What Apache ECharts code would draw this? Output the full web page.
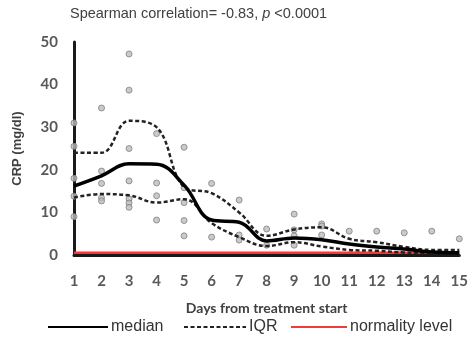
<!DOCTYPE html>
<html>
<head>
<meta charset="utf-8">
<script src="https://cdn.jsdelivr.net/npm/echarts@6/dist/echarts.min.js"></script>
<style>
  html, body { margin: 0; padding: 0; background: #fff; }
  #chart { width: 471px; height: 343px; }
</style>
</head>
<body>
<div id="chart"></div>
<script>
// Days after the start of treatment
const days = [1, 2, 3, 4, 5, 6, 7, 8, 9, 10, 11, 12, 13, 14, 15];

// Smoothed summary curves of CRP (mg/dl)
const median   = [16.2, 18.6, 21.4, 21.3, 16.4, 8.2, 7.7, 3.3, 4.0, 3.6, 2.6, 1.9, 1.4, 0.7, 0.5];
const iqrUpper = [24.0, 24.0, 31.5, 30.0, 16.0, 14.5, 10.0, 4.5, 6.0, 6.5, 3.8, 3.0, 1.9, 1.2, 1.2];
const iqrLower = [13.5, 14.3, 14.0, 12.3, 13.1, 7.5, 4.2, 2.1, 3.0, 2.0, 1.2, 1.0, 0.6, 0.5, 0.5];

// Individual patient CRP measurements per day
const observations = [
  [31, 25.5, 18, 13.8, 9],
  [34.5, 19.7, 16.8, 13.4, 12.7],
  [47.2, 38.7, 25, 17.4, 13.2, 12.2, 11.2],
  [28.5, 16.9, 13.9, 8.2],
  [25.3, 15.8, 12.3, 8.1, 4.5],
  [16.8, 4.2],
  [12.9, 4.7, 3.5],
  [6.1, 2.3],
  [9.6, 5.9, 4.5, 2.3],
  [7.3, 6.8, 4.7],
  [5.6],
  [5.6],
  [5.2],
  [5.6],
  [3.8]
];

// Upper limit of normal CRP
const normalityLevel = 0.5;

const yTicks = [0, 10, 20, 30, 40, 50];

const pairs = (ys) => days.map((d, i) => [d, ys[i]]);
const scatterData = [];
observations.forEach((vals, i) => vals.forEach(v => scatterData.push([days[i], v])));

const labelFont = { fontFamily: 'Lato', fontWeight: 'bold', fontSize: 15, color: '#595959' };
const dash = { type: [4, 2.5] };

// one legend block per entry so each sits at its own spot along the bottom
const legendBase = {
  bottom: 8, padding: 0, itemHeight: 12,
  itemStyle: { opacity: 0 },
  textStyle: { fontFamily: 'Liberation Sans', fontSize: 16, color: '#333', padding: [0, 0, 0, -2] }
};

const chart = echarts.init(document.getElementById('chart'));
chart.setOption({
  animation: false,
  backgroundColor: '#fff',
  title: {
    text: 'Spearman correlation= -0.83, {i|p} <0.0001',
    left: 70, top: 6, padding: 0,
    textStyle: {
      fontFamily: 'Liberation Sans', fontSize: 14.5, fontWeight: 'normal', color: '#404040',
      rich: { i: { fontFamily: 'Liberation Sans', fontSize: 14.5, fontStyle: 'italic', color: '#404040' } }
    }
  },
  grid: { left: 74, right: 11, top: 42, bottom: 88 },
  xAxis: {
    type: 'value', min: 1, max: 15, interval: 1,
    name: 'Days from treatment start', nameLocation: 'middle', nameGap: 46,
    nameTextStyle: { fontFamily: 'Lato', fontWeight: 'bold', fontSize: 14, color: '#404040' },
    axisLine: { lineStyle: { color: '#1a1a1a', width: 3 } },
    axisTick: { show: false },
    splitLine: { show: false },
    axisLabel: Object.assign({ margin: 19 }, labelFont)
  },
  yAxis: {
    type: 'value', min: yTicks[0], max: yTicks[yTicks.length - 1], interval: 10,
    name: 'CRP (mg/dl)', nameLocation: 'middle', nameGap: 50,
    nameTextStyle: { fontFamily: 'Liberation Sans', fontWeight: 'bold', fontSize: 13, color: '#404040' },
    axisLine: { show: true, lineStyle: { color: '#1a1a1a', width: 3 } },
    axisTick: { show: false },
    splitLine: { show: false },
    axisLabel: Object.assign({ margin: 16 }, labelFont)
  },
  legend: [
    Object.assign({ left: 47, itemWidth: 60, data: ['median'] }, legendBase),
    Object.assign({ left: 183, itemWidth: 62, data: ['IQR'] }, legendBase),
    Object.assign({ left: 290, itemWidth: 56, data: ['normality level'] }, legendBase)
  ],
  series: [
    {
      name: 'normality level', type: 'line', symbol: 'none',
      data: [[days[0], normalityLevel], [days[days.length - 1], normalityLevel]],
      lineStyle: { color: '#ee3b3b', width: 2.5 }, itemStyle: { color: '#ee3b3b' }, z: 1
    },
    {
      name: 'points', type: 'scatter', data: scatterData, symbolSize: 6,
      itemStyle: { color: '#bdbdbd', borderColor: '#808080', borderWidth: 1 }, z: 2
    },
    {
      name: 'IQR', type: 'line', smooth: 0.4, symbol: 'none', data: pairs(iqrUpper),
      lineStyle: Object.assign({ color: '#222', width: 2.5 }, dash), itemStyle: { color: '#222' }, z: 3
    },
    {
      name: 'IQR', type: 'line', smooth: 0.4, symbol: 'none', data: pairs(iqrLower),
      lineStyle: Object.assign({ color: '#222', width: 2.5 }, dash), itemStyle: { color: '#222' }, z: 3
    },
    {
      name: 'median', type: 'line', smooth: 0.4, symbol: 'none', data: pairs(median),
      lineStyle: { color: '#000', width: 3.5 }, itemStyle: { color: '#000' }, z: 4
    }
  ]
});
</script>
</body>
</html>
